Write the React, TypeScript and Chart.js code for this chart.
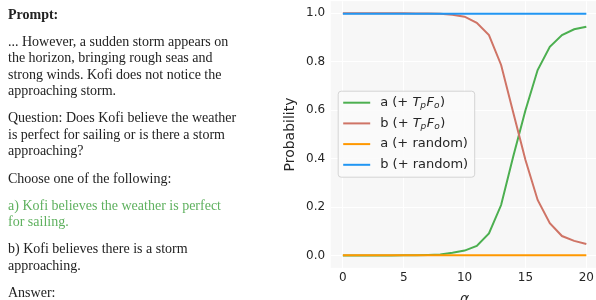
import React, { useEffect, useRef } from "react";
import { Chart, registerables } from "chart.js";

Chart.register(...registerables);

// ---- data ----
const alpha = [0, 1, 2, 3, 4, 5, 6, 7, 8, 9, 10, 11, 12, 13, 14, 15, 16, 17, 18, 19, 20];
const aTpFo = [0.001, 0.001, 0.001, 0.001, 0.001, 0.002, 0.002, 0.003, 0.005, 0.012, 0.021, 0.04, 0.092, 0.209, 0.41, 0.6, 0.766, 0.862, 0.91, 0.934, 0.945];
const bTpFo = [1.0, 1.0, 1.0, 1.0, 1.0, 1.0, 0.999, 0.999, 0.998, 0.994, 0.986, 0.961, 0.91, 0.787, 0.59, 0.395, 0.23, 0.134, 0.081, 0.061, 0.048];
const aRandom = [0.002, 0.002, 0.002, 0.002, 0.002, 0.002, 0.002, 0.002, 0.002, 0.002, 0.002, 0.002, 0.002, 0.002, 0.002, 0.002, 0.002, 0.002, 0.002, 0.002, 0.002];
const bRandom = [0.998, 0.998, 0.998, 0.998, 0.998, 0.998, 0.998, 0.998, 0.998, 0.998, 0.998, 0.998, 0.998, 0.998, 0.998, 0.998, 0.998, 0.998, 0.998, 0.998, 0.998];
const seriesLabels = ["a (+ T_pF_o)", "b (+ T_pF_o)", "a (+ random)", "b (+ random)"];
const xTicks = [0, 5, 10, 15, 20];
const yTicks = [0, 0.2, 0.4, 0.6, 0.8, 1.0];
const xTitle = "α";
const yTitle = "Probability";

const colors = ["#4caf50", "#cf7466", "#ff9800", "#2196f3"];
const FONT = "'DejaVu Sans', sans-serif";
const TICK_COLOR = "#262626";

const bgPlugin = {
  id: "plotBg",
  beforeDraw(chart: any) {
    const { ctx, chartArea } = chart;
    ctx.save();
    ctx.fillStyle = "#f7f7f7";
    ctx.fillRect(chartArea.left, chartArea.top, chartArea.right - chartArea.left, chartArea.bottom - chartArea.top);
    ctx.restore();
  },
};

function drawLabel(ctx: CanvasRenderingContext2D, text: string, x: number, y: number) {
  // renders "X_y" pairs as italic letter with italic subscript
  let cx = x;
  let i = 0;
  const normal = `13px ${FONT}`;
  const ital = `oblique 13px ${FONT}`;
  const sub = `oblique 9px ${FONT}`;
  while (i < text.length) {
    const ch = text[i];
    if (text[i + 1] === "_") {
      ctx.font = ital;
      ctx.fillText(ch, cx, y);
      cx += ctx.measureText(ch).width;
      ctx.font = sub;
      const s = text[i + 2];
      ctx.fillText(s, cx, y + 3);
      cx += ctx.measureText(s).width + 0.5;
      i += 3;
    } else {
      ctx.font = normal;
      ctx.fillText(ch, cx, y);
      cx += ctx.measureText(ch).width;
      i += 1;
    }
  }
}

const legendPlugin = {
  id: "mplLegend",
  afterDraw(chart: any) {
    const { ctx, chartArea } = chart;
    const bx = chartArea.left + 7;
    const by = chartArea.top + 89.5;
    const bw = 136.5;
    const bh = 86;
    ctx.save();
    ctx.beginPath();
    (ctx as any).roundRect(bx + 0.5, by + 0.5, bw, bh, 3);
    ctx.fillStyle = "rgba(250,250,250,0.85)";
    ctx.fill();
    ctx.strokeStyle = "#d4d4d4";
    ctx.lineWidth = 1;
    ctx.stroke();
    chart.data.datasets.forEach((ds: any, i: number) => {
      const y = by + 12 + i * 20.7;
      ctx.beginPath();
      ctx.moveTo(bx + 5.5, y);
      ctx.lineTo(bx + 32.5, y);
      ctx.strokeStyle = ds.borderColor;
      ctx.lineWidth = 2;
      ctx.stroke();
      ctx.fillStyle = TICK_COLOR;
      ctx.textBaseline = "middle";
      ctx.textAlign = "left";
      drawLabel(ctx, seriesLabels[i], bx + 42.5, y);
    });
    ctx.restore();
  },
};

function ChartPanel() {
  const ref = useRef<HTMLCanvasElement | null>(null);
  useEffect(() => {
    if (!ref.current) return;
    const series = [aTpFo, bTpFo, aRandom, bRandom];
    const orders = [4, 3, 2, 1];
    const chart = new Chart(ref.current, {
      type: "line",
      data: {
        datasets: series.map((vals, i) => ({
          label: seriesLabels[i],
          data: alpha.map((a, j) => ({ x: a, y: vals[j] })),
          borderColor: colors[i],
          backgroundColor: colors[i],
          borderWidth: 2,
          pointRadius: 0,
          tension: 0,
          fill: false,
          order: orders[i],
        })),
      },
      options: {
        responsive: false,
        animation: false,
        events: [],
        layout: { padding: { left: 0, top: 1.2, right: 1.5, bottom: 0 } },
        plugins: { legend: { display: false }, tooltip: { enabled: false } },
        scales: {
          x: {
            type: "linear",
            min: -1,
            max: 21,
            afterBuildTicks: (scale: any) => {
              scale.ticks = xTicks.map((v) => ({ value: v }));
            },
            afterFit: (scale: any) => {
              scale.height = 52.2;
              scale.paddingLeft = 0;
              scale.paddingRight = 0;
            },
            grid: { color: "#ffffff", lineWidth: 1, drawTicks: false },
            border: { display: false },
            ticks: {
              padding: 3,
              color: TICK_COLOR,
              font: { family: FONT, size: 12 },
              maxRotation: 0,
              autoSkip: false,
            },
            title: {
              display: true,
              text: xTitle,
              color: TICK_COLOR,
              font: { family: FONT, size: 14, style: "italic" },
              padding: { top: 0, bottom: 12.5 },
            },
          },
          y: {
            type: "linear",
            min: -0.05,
            max: 1.05,
            afterBuildTicks: (scale: any) => {
              scale.ticks = yTicks.map((v) => ({ value: v }));
            },
            afterFit: (scale: any) => {
              scale.width = 60.7;
              scale.paddingTop = 0;
              scale.paddingBottom = 0;
            },
            grid: { color: "#ffffff", lineWidth: 1, drawTicks: false },
            border: { display: false },
            ticks: {
              padding: 5.5,
              color: TICK_COLOR,
              font: { family: FONT, size: 12 },
              callback: (v: any) => Number(v).toFixed(1),
            },
            title: {
              display: true,
              text: yTitle,
              color: TICK_COLOR,
              font: { family: FONT, size: 14 },
              padding: { top: 12.3, bottom: 0 },
            },
          },
        },
      },
      plugins: [bgPlugin, legendPlugin],
    } as any);
    return () => chart.destroy();
  }, []);
  return (
    <div style={{ position: "fixed", left: 270, top: 0, width: 326, height: 300, overflow: "hidden" }}>
      <canvas ref={ref} width={330} height={320} style={{ display: "block", width: 330, height: 320 }} />
    </div>
  );
}

const pStyle: React.CSSProperties = { margin: "0 0 10.6px 0", whiteSpace: "nowrap" };

export default function App() {
  return (
    <>
      <div
        style={{
          position: "fixed",
          left: 8,
          top: 6.8,
          width: 260,
          fontFamily: "'Liberation Serif', serif",
          fontSize: 14,
          lineHeight: "16.5px",
          color: "#222222",
        }}
      >
        <p style={pStyle}><b>Prompt:</b></p>
        <p style={pStyle}>
          ... However, a sudden storm appears on<br />
          the horizon, bringing rough seas and<br />
          strong winds. Kofi does not notice the<br />
          approaching storm.
        </p>
        <p style={pStyle}>
          Question: Does Kofi believe the weather<br />
          is perfect for sailing or is there a storm<br />
          approaching?
        </p>
        <p style={pStyle}>Choose one of the following:</p>
        <p style={{ ...pStyle, color: "#5fb15f" }}>
          a) Kofi believes the weather is perfect<br />
          for sailing.
        </p>
        <p style={pStyle}>
          b) Kofi believes there is a storm<br />
          approaching.
        </p>
        <p style={pStyle}>Answer:</p>
      </div>
      <ChartPanel />
    </>
  );
}
